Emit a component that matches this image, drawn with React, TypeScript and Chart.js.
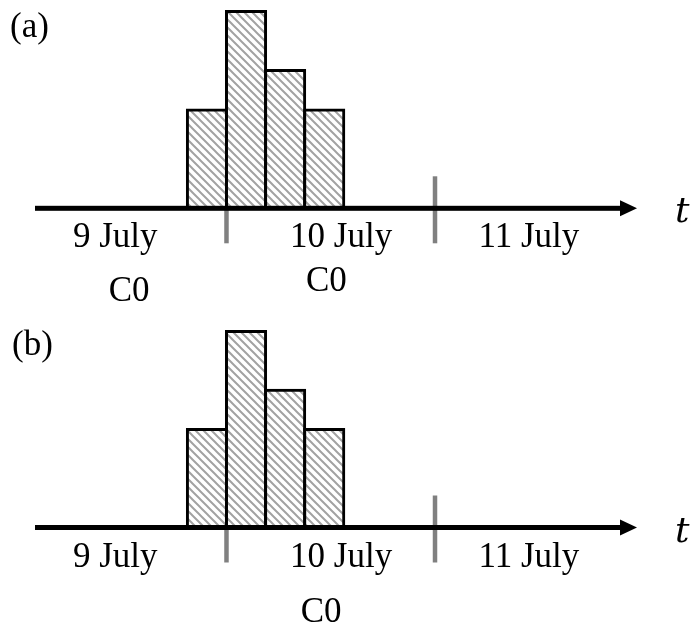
import React, { useEffect, useRef } from "react";
import { Chart, registerables } from "chart.js";

Chart.register(...registerables);

// hours counted from 9 July 00:00
const barHours = [21.75, 26.25, 30.75, 35.25];
const countsA = [5, 10, 7, 5];
const countsB = [5, 10, 7, 5];
const dayBoundaries = [24, 48];
const dayLabels = ["9 July", "10 July", "11 July"];
const dayLabelHours = [11.2, 37.2, 58.8];
const clusterLabelsA = ["C0", "C0"];
const clusterHoursA = [12.8, 35.5];
const clusterLabelsB = ["C0"];
const clusterHoursB = [34.9];
const axisStart = 1.96;
const axisEnd = 71.25;
const yMax = 10;

const FONT = '35px "Liberation Serif"';

function makeHatch(ctx: CanvasRenderingContext2D) {
  const c = document.createElement("canvas");
  c.width = 8;
  c.height = 8;
  const g = c.getContext("2d")!;
  g.fillStyle = "#ffffff";
  g.fillRect(0, 0, 8, 8);
  g.strokeStyle = "#a2a2a2";
  g.lineWidth = 2;
  g.beginPath();
  for (const k of [-8, 0, 8]) {
    g.moveTo(k - 2, -2);
    g.lineTo(k + 10, 10);
  }
  g.stroke();
  return ctx.createPattern(c, "repeat")!;
}

type PanelProps = {
  counts: number[];
  clusterLabels: string[];
  clusterHours: number[];
  clusterDy: number[];
  panelLabel: string;
  panelLabelX: number;
  panelLabelY: number;
  padTop: number;
  padBottom: number;
};

function Panel(p: PanelProps) {
  const ref = useRef<HTMLCanvasElement | null>(null);
  useEffect(() => {
    const canvas = ref.current!;
    const ctx0 = canvas.getContext("2d")!;
    const hatch = makeHatch(ctx0);

    const axisPlugin = {
      id: "timeAxis",
      beforeDatasetsDraw(chart: any) {
        const { ctx, chartArea, scales } = chart;
        const x = scales.x;
        const y0 = chartArea.bottom;
        ctx.save();
        ctx.strokeStyle = "#808080";
        ctx.lineWidth = 4.5;
        dayBoundaries.forEach((v) => {
          const px = x.getPixelForValue(v);
          ctx.beginPath();
          ctx.moveTo(px, y0 - 32);
          ctx.lineTo(px, y0 + 35);
          ctx.stroke();
        });
        ctx.restore();
      },
      afterDatasetsDraw(chart: any) {
        const { ctx, chartArea, scales } = chart;
        const x = scales.x;
        const y0 = chartArea.bottom;
        const tip = chartArea.right;
        const headLen = 17;
        ctx.save();
        ctx.fillStyle = "#000000";
        ctx.fillRect(chartArea.left, y0 - 2.5, tip - headLen - chartArea.left + 2, 5);
        ctx.beginPath();
        ctx.moveTo(tip, y0);
        ctx.lineTo(tip - headLen, y0 - 8);
        ctx.lineTo(tip - headLen, y0 + 8);
        ctx.closePath();
        ctx.fill();

        ctx.font = 'italic 36px "DejaVu Serif"';
        ctx.textAlign = "left";
        ctx.textBaseline = "alphabetic";
        ctx.fillText("t", tip + 38, y0 + 14);

        ctx.font = FONT;
        ctx.textAlign = "center";
        dayLabels.forEach((s, i) => {
          ctx.fillText(s, x.getPixelForValue(dayLabelHours[i]), y0 + 39);
        });
        p.clusterLabels.forEach((s, i) => {
          ctx.fillText(s, x.getPixelForValue(p.clusterHours[i]), y0 + p.clusterDy[i]);
        });
        ctx.textAlign = "left";
        ctx.fillText(p.panelLabel, p.panelLabelX, p.panelLabelY);
        ctx.restore();
      },
    };

    const chart = new Chart(canvas, {
      type: "bar",
      data: {
        datasets: [
          {
            data: barHours.map((h, i) => ({ x: h, y: p.counts[i] })),
            backgroundColor: hatch as any,
            borderColor: "#000000",
            borderWidth: 3,
            inflateAmount: 1.5,
            barPercentage: 1,
            categoryPercentage: 1,
            clip: false as any,
          },
        ],
      },
      options: {
        animation: false,
        responsive: false,
        events: [],
        layout: {
          padding: { left: 35, right: 58, top: p.padTop, bottom: p.padBottom },
        },
        plugins: { legend: { display: false }, tooltip: { enabled: false } },
        scales: {
          x: {
            type: "linear",
            display: false,
            offset: false,
            min: axisStart,
            max: axisEnd,
            afterBuildTicks: (scale: any) => {
              scale.ticks = dayBoundaries.map((v) => ({ value: v }));
            },
          },
          y: { display: false, min: 0, max: yMax },
        },
      },
      plugins: [axisPlugin],
    });
    return () => chart.destroy();
  }, []);
  return (
    <canvas
      ref={ref}
      width={695}
      height={315}
      style={{ display: "block", width: 695, height: 315 }}
    />
  );
}

export default function App() {
  useEffect(() => {
    document.body.style.margin = "0";
  }, []);
  return (
    <div style={{ position: "absolute", left: 0, top: 0, width: 695, height: 630, background: "#fff" }}>
      <Panel
        counts={countsA}
        clusterLabels={clusterLabelsA}
        clusterHours={clusterHoursA}
        clusterDy={[93, 83]}
        panelLabel="(a)"
        panelLabelX={10}
        panelLabelY={37}
        padTop={11.5}
        padBottom={106.7}
      />
      <Panel
        counts={countsB}
        clusterLabels={clusterLabelsB}
        clusterHours={clusterHoursB}
        clusterDy={[94.5]}
        panelLabel="(b)"
        panelLabelX={12}
        panelLabelY={40}
        padTop={16.5}
        padBottom={102.5}
      />
    </div>
  );
}
